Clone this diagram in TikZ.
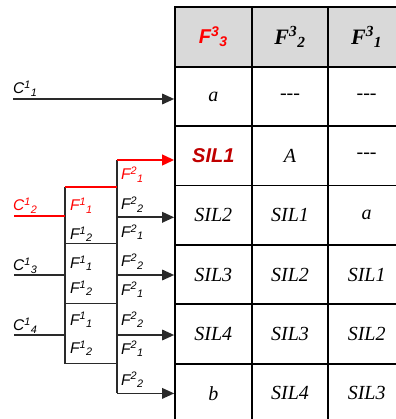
\documentclass[tikz,border=0pt]{standalone}
\usepackage{fontspec}
\setmainfont{Liberation Serif}
\setsansfont{Liberation Sans}
\usetikzlibrary{arrows.meta}
\definecolor{hdr}{HTML}{D9D9D9}
\definecolor{dred}{HTML}{C00000}
\definecolor{lgray}{HTML}{2A2A2A}
\newcommand{\lbl}[3]{#1\textsuperscript{#2}\textsubscript{#3}}
\begin{document}
\begin{tikzpicture}[x=1pt,y=-1pt,
 cell/.style={draw=black, line width=1.7pt, minimum width=76.65pt, minimum height=59.4pt, inner sep=0pt, font=\fontsize{20}{22}\selectfont\itshape},
 hcell/.style={cell, fill=hdr},
 tline/.style={draw=lgray, line width=1.7pt},
 rline/.style={draw=red, line width=2.4pt},
 tip/.style={-{Triangle[length=12pt,width=10.5pt]}},
 flbl/.style={anchor=base west, inner sep=0pt, font=\sffamily\itshape\fontsize{15.5}{17}\selectfont},
]
\useasboundingbox (0,0) rectangle (395,419);
% ---- table ----
\node[hcell, font=\sffamily\bfseries\itshape\fontsize{20}{22}\selectfont, text=red] (h1) at (213.35,36.85) {\lbl{F}{3}{3}};
\node[hcell, font=\bfseries\itshape\fontsize{22}{24}\selectfont] (h2) at (290,36.85) {\lbl{F}{3}{2}};
\node[hcell, font=\bfseries\itshape\fontsize{22}{24}\selectfont] (h3) at (366.65,36.85) {\lbl{F}{3}{1}};
\node[cell] (r1a) at (213.35,96.4) {a};
\node[cell] (r1b) at (290,96.4) {-{}-{}-};
\node[cell] (r1c) at (366.65,96.4) {-{}-{}-};
\node[cell, font=\sffamily\bfseries\itshape\fontsize{20}{22}\selectfont, text=dred] (r2a) at (213.35,155.8) {SIL1};
\node[cell] (r2b) at (290,155.8) {A};
\node[cell] (r2c) at (366.65,155.8) {-{}-{}-};
\node[cell] (r3a) at (213.35,215.2) {SIL2};
\node[cell] (r3b) at (290,215.2) {SIL1};
\node[cell] (r3c) at (366.65,215.2) {a};
\node[cell] (r4a) at (213.35,274.6) {SIL3};
\node[cell] (r4b) at (290,274.6) {SIL2};
\node[cell] (r4c) at (366.65,274.6) {SIL1};
\node[cell] (r5a) at (213.35,334) {SIL4};
\node[cell] (r5b) at (290,334) {SIL3};
\node[cell] (r5c) at (366.65,334) {SIL2};
\node[cell] (r6a) at (213.35,393.4) {b};
\node[cell] (r6b) at (290,393.4) {SIL4};
\node[cell] (r6c) at (366.65,393.4) {SIL3};
% ---- tree coordinates ----
\coordinate (c11) at (13,99);
\coordinate (c12) at (14,215.7);
\coordinate (c13) at (14,275);
\coordinate (c14) at (14,335);
\coordinate (j12) at (65,215.7);
\coordinate (j13) at (65,275);
\coordinate (j14) at (65,335);
\coordinate (la) at (65,187);
\coordinate (lb) at (65,243.5);
\coordinate (lc) at (65,303.5);
\coordinate (ld) at (65,363.5);
\coordinate (ma) at (117,187);
\coordinate (mb) at (117,243.5);
\coordinate (mc) at (117,303.5);
\coordinate (md) at (117,363.5);
\coordinate (a1) at (117,160);
\coordinate (a2) at (117,217.3);
\coordinate (a3) at (117,275);
\coordinate (a4) at (117,335);
\coordinate (a5) at (117,393.4);
% ---- tree lines ----
\draw[tline] (la) -- (ld);
\draw[tline] (a1) -- (a5);
\draw[tline] (lb) -- (mb);
\draw[tline] (lc) -- (mc);
\draw[tline] (ld) -- (md);
\draw[tline] (c13) -- (j13);
\draw[tline] (c14) -- (j14);
\draw[rline] (c12) -- (j12);
\draw[rline] (la) -- (ma);
\draw[tline, tip] (c11) -- (c11 -| r1a.west);
\draw[rline, tip] (a1) -- (a1 -| r2a.west);
\draw[tline, tip] (a2) -- (a2 -| r3a.west);
\draw[tline, tip] (a3) -- (a3 -| r4a.west);
\draw[tline, tip] (a4) -- (a4 -| r5a.west);
\draw[tline, tip] (a5) -- (a5 -| r6a.west);
% ---- labels ----
\node[flbl] (tc11) at (13,94) {\lbl{C}{1}{1}};
\node[flbl, text=red] (tc12) at (13,210.5) {\lbl{C}{1}{2}};
\node[flbl] (tc13) at (13,270.5) {\lbl{C}{1}{3}};
\node[flbl] (tc14) at (13,330.5) {\lbl{C}{1}{4}};
\node[flbl, text=red] (f11a) at (70,211) {\lbl{F}{1}{1}};
\node[flbl] (f12a) at (70,239.3) {\lbl{F}{1}{2}};
\node[flbl] (f11b) at (70,268.3) {\lbl{F}{1}{1}};
\node[flbl] (f12b) at (70,293.3) {\lbl{F}{1}{2}};
\node[flbl] (f11c) at (70,325) {\lbl{F}{1}{1}};
\node[flbl] (f12c) at (70,353.3) {\lbl{F}{1}{2}};
\node[flbl, text=red] (f21a) at (121,180) {\lbl{F}{2}{1}};
\node[flbl] (f22a) at (121,210) {\lbl{F}{2}{2}};
\node[flbl] (f21b) at (121,237.3) {\lbl{F}{2}{1}};
\node[flbl] (f22b) at (121,266.7) {\lbl{F}{2}{2}};
\node[flbl] (f21c) at (121,295) {\lbl{F}{2}{1}};
\node[flbl] (f22c) at (121,325) {\lbl{F}{2}{2}};
\node[flbl] (f21d) at (121,354) {\lbl{F}{2}{1}};
\node[flbl] (f22d) at (121,385) {\lbl{F}{2}{2}};
\end{tikzpicture}
\end{document}
